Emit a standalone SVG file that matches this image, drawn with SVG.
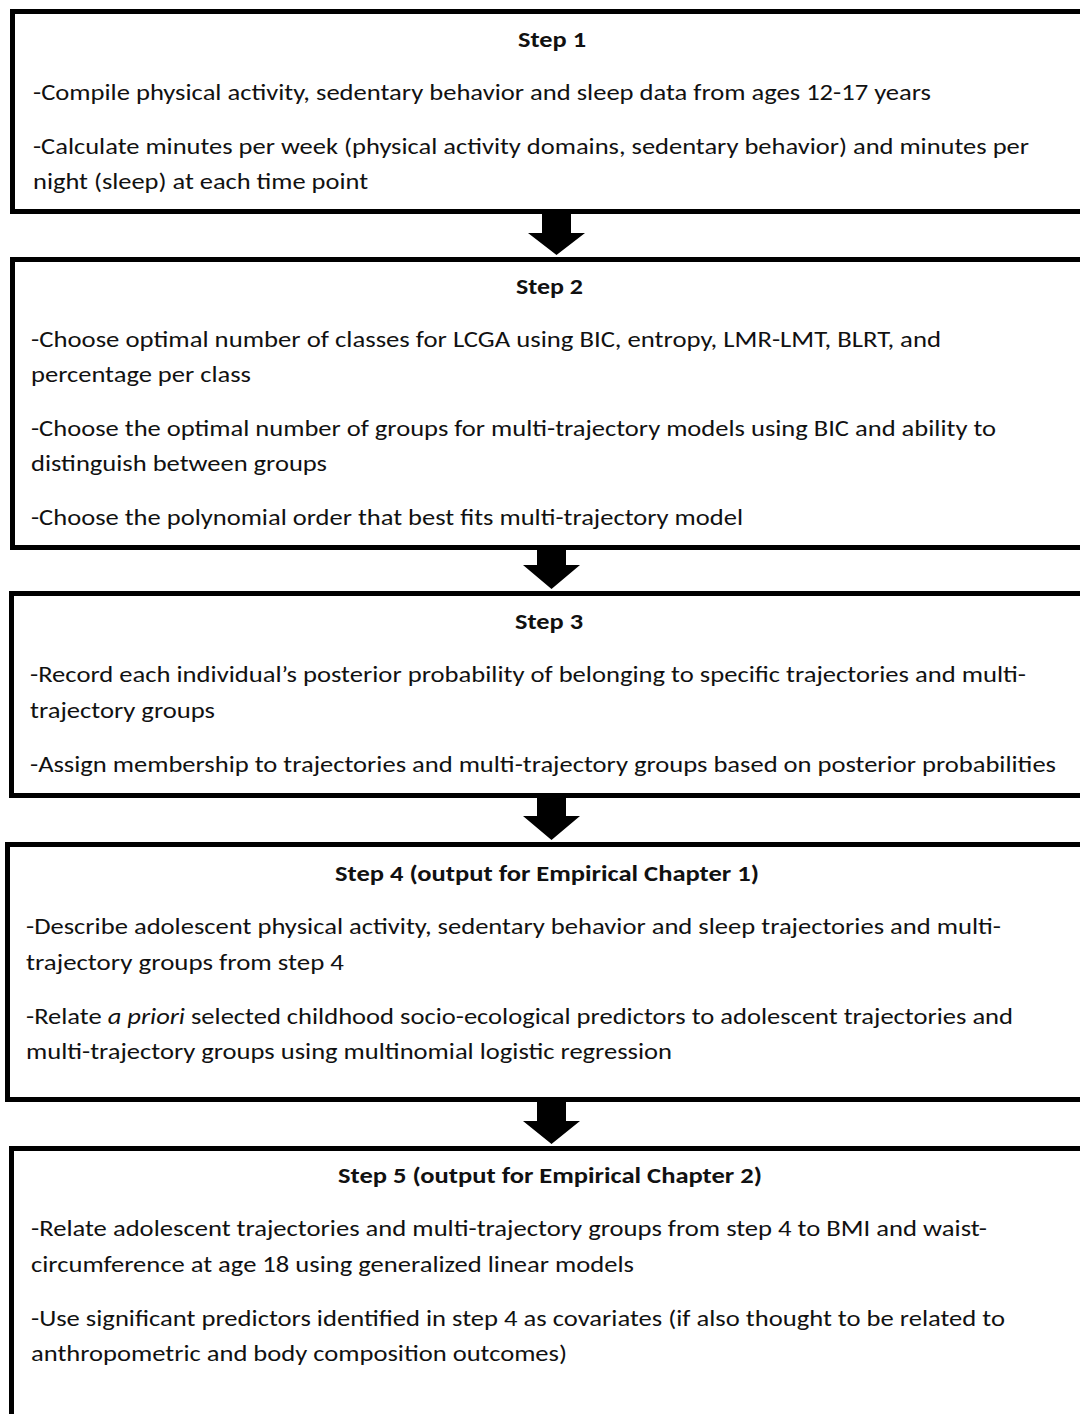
<svg xmlns="http://www.w3.org/2000/svg" width="1080" height="1414" viewBox="0 0 1080 1414">
<style>
.box{fill:#fff;stroke:#000;stroke-width:5}
text{font-family:Carlito,"Open Sans","Liberation Sans",sans-serif;font-size:22px;fill:#111}
.t{font-weight:bold}
.arr{fill:#000}
</style>
<rect width="1080" height="1414" fill="#fff"/>
<g id="step1">
<rect class="box" x="12.5" y="11.5" width="1080" height="200"/>
<text class="t" x="518" y="47" textLength="68" lengthAdjust="spacingAndGlyphs">Step 1</text>
<text x="33" y="100" textLength="898" lengthAdjust="spacingAndGlyphs">-Compile physical activity, sedentary behavior and sleep data from ages 12-17 years</text>
<text x="33" y="154" textLength="996" lengthAdjust="spacingAndGlyphs">-Calculate minutes per week (physical activity domains, sedentary behavior) and minutes per</text>
<text x="33" y="189" textLength="335" lengthAdjust="spacingAndGlyphs">night (sleep) at each time point</text>
</g>
<g id="step2">
<rect class="box" x="12.5" y="259.5" width="1080" height="288"/>
<text class="t" x="516" y="294" textLength="67" lengthAdjust="spacingAndGlyphs">Step 2</text>
<text x="31" y="347" textLength="910" lengthAdjust="spacingAndGlyphs">-Choose optimal number of classes for LCGA using BIC, entropy, LMR-LMT, BLRT, and</text>
<text x="31" y="382" textLength="220" lengthAdjust="spacingAndGlyphs">percentage per class</text>
<text x="31" y="436" textLength="965" lengthAdjust="spacingAndGlyphs">-Choose the optimal number of groups for multi-trajectory models using BIC and ability to</text>
<text x="31" y="471" textLength="296" lengthAdjust="spacingAndGlyphs">distinguish between groups</text>
<text x="31" y="525" textLength="712" lengthAdjust="spacingAndGlyphs">-Choose the polynomial order that best fits multi-trajectory model</text>
</g>
<g id="step3">
<rect class="box" x="11.5" y="593.5" width="1080" height="202"/>
<text class="t" x="515" y="629" textLength="68" lengthAdjust="spacingAndGlyphs">Step 3</text>
<text x="30" y="682" textLength="996" lengthAdjust="spacingAndGlyphs">-Record each individual’s posterior probability of belonging to specific trajectories and multi-</text>
<text x="30" y="718" textLength="185" lengthAdjust="spacingAndGlyphs">trajectory groups</text>
<text x="30" y="772" textLength="1026" lengthAdjust="spacingAndGlyphs">-Assign membership to trajectories and multi-trajectory groups based on posterior probabilities</text>
</g>
<g id="step4">
<rect class="box" x="7.5" y="844.5" width="1085" height="255"/>
<text class="t" x="335" y="881" textLength="424" lengthAdjust="spacingAndGlyphs">Step 4 (output for Empirical Chapter 1)</text>
<text x="26" y="934" textLength="975" lengthAdjust="spacingAndGlyphs">-Describe adolescent physical activity, sedentary behavior and sleep trajectories and multi-</text>
<text x="26" y="970" textLength="318" lengthAdjust="spacingAndGlyphs">trajectory groups from step 4</text>
<text x="26" y="1024" textLength="987" lengthAdjust="spacingAndGlyphs">-Relate <tspan font-style="italic">a priori</tspan> selected childhood socio-ecological predictors to adolescent trajectories and</text>
<text x="26" y="1059" textLength="646" lengthAdjust="spacingAndGlyphs">multi-trajectory groups using multinomial logistic regression</text>
</g>
<g id="step5">
<rect class="box" x="11.5" y="1148.5" width="1080" height="300"/>
<text class="t" x="338" y="1183" textLength="424" lengthAdjust="spacingAndGlyphs">Step 5 (output for Empirical Chapter 2)</text>
<text x="31" y="1236" textLength="956" lengthAdjust="spacingAndGlyphs">-Relate adolescent trajectories and multi-trajectory groups from step 4 to BMI and waist-</text>
<text x="31" y="1272" textLength="603" lengthAdjust="spacingAndGlyphs">circumference at age 18 using generalized linear models</text>
<text x="31" y="1326" textLength="974" lengthAdjust="spacingAndGlyphs">-Use significant predictors identified in step 4 as covariates (if also thought to be related to</text>
<text x="31" y="1361" textLength="536" lengthAdjust="spacingAndGlyphs">anthropometric and body composition outcomes)</text>
</g>
<g id="connectors">
<polygon class="arr" points="542,214 571,214 571,233 585,233 556.5,255 528,233 542,233"/>
<polygon class="arr" points="537,550 566,550 566,565 580,565 551.5,589 523,565 537,565"/>
<polygon class="arr" points="537,798 566,798 566,816 580,816 551.5,840 523,816 537,816"/>
<polygon class="arr" points="537,1102 566,1102 566,1121 580,1121 551.5,1144 523,1121 537,1121"/>
</g>
</svg>
